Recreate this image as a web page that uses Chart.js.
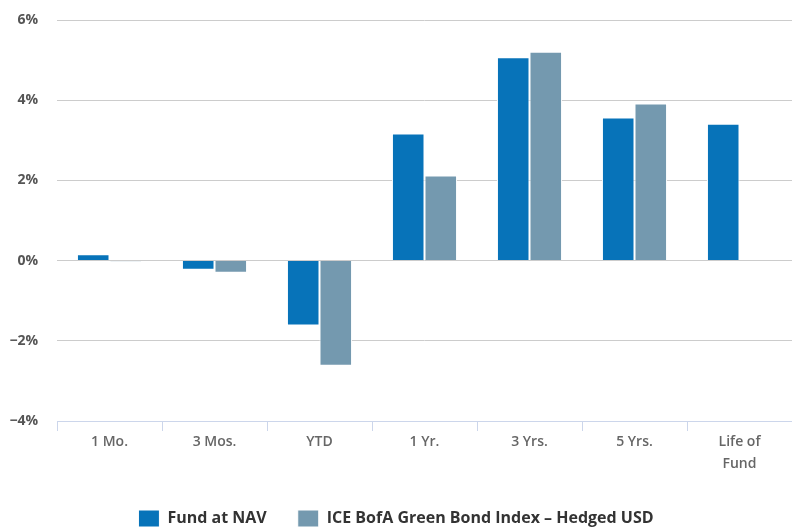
<!DOCTYPE html>
<html>
<head>
<meta charset="utf-8">
<script src="https://cdn.jsdelivr.net/npm/chart.js@4/dist/chart.umd.min.js"></script>
<style>
  body { margin: 0; background: #fff; }
  #wrap { width: 792px; height: 527px; }
</style>
</head>
<body>
<div id="wrap"><canvas id="chart" width="792" height="527"></canvas></div>
<script>
const periods = ['1 Mo.', '3 Mos.', 'YTD', '1 Yr.', '3 Yrs.', '5 Yrs.', ['Life of', 'Fund']];
const fundNav = [0.16, -0.23, -1.62, 3.17, 5.07, 3.57, 3.41];
const benchmark = [-0.02, -0.30, -2.62, 2.12, 5.21, 3.92, null];
const seriesNames = ['Fund at NAV', 'ICE BofA Green Bond Index \u2013 Hedged USD'];

const fontFamily = '"Open Sans", "Noto Sans", sans-serif';

function pct(v) {
    return (v < 0 ? '\u2212' + Math.abs(v) : v) + '%';
}

const ctx = document.getElementById('chart').getContext('2d');
window.bar1 = new Chart(ctx, {
    type: 'bar',
    data: {
        labels: periods,
        datasets: [{
            label: seriesNames[0],
            data: fundNav,
            backgroundColor: '#0773b9',
            borderColor: '#ffffff',
            borderWidth: 1
        }, {
            label: seriesNames[1],
            data: benchmark,
            backgroundColor: '#7499af',
            borderColor: '#ffffff',
            borderWidth: 1
        }]
    },
    options: {
        responsive: false,
        animation: false,
        layout: { padding: { top: 20, right: 0, left: 0, bottom: -10 } },
        datasets: {
            bar: { barPercentage: 1, categoryPercentage: 0.62 }
        },
        scales: {
            x: {
                grid: {
                    drawOnChartArea: false,
                    drawTicks: true,
                    tickLength: 10,
                    color: '#ccd6eb'
                },
                border: { color: '#ccd6eb' },
                ticks: {
                    color: '#666666',
                    font: { family: fontFamily, size: 14, weight: '600', lineHeight: 1.55 },
                    padding: 0,
                    maxRotation: 0
                },
                afterFit: function(scale) { scale.height = 58; }
            },
            y: {
                min: -4,
                max: 6,
                ticks: {
                    stepSize: 2,
                    color: '#555555',
                    font: { family: fontFamily, size: 14, weight: 'bold' },
                    padding: 19,
                    callback: v => pct(v)
                },
                grid: { color: '#cccccc', lineWidth: 1, drawTicks: false },
                border: { display: false },
                afterFit: function(scale) {
                    scale.width = 57;
                    scale.paddingTop = 0;
                    scale.paddingBottom = 0;
                }
            }
        },
        plugins: {
            legend: {
                position: 'bottom',
                labels: {
                    boxWidth: 21,
                    boxHeight: 17,
                    padding: 31,
                    color: '#333333',
                    font: { family: fontFamily, size: 16, weight: 'bold' }
                }
            },
            tooltip: { enabled: false }
        }
    }
});
</script>
</body>
</html>
